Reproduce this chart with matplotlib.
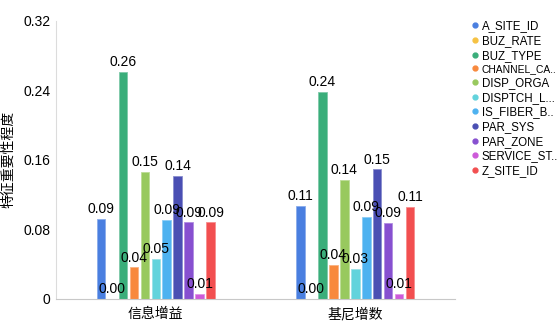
import matplotlib

matplotlib.use("Agg")
import matplotlib.pyplot as plt
from matplotlib.colors import to_rgb
from matplotlib.lines import Line2D
import numpy as np

plt.rcParams["font.family"] = ["Liberation Sans", "Noto Sans CJK SC", "DejaVu Sans"]

# categorías (grupos) y features
groups = ["信息增益", "基尼增数"]
features = ["A_SITE_ID", "BUZ_RATE", "BUZ_TYPE", "CHANNEL_CA..", "DISP_ORGA",
            "DISPTCH_L...", "IS_FIBER_B..", "PAR_SYS", "PAR_ZONE",
            "SERVICE_ST..", "Z_SITE_ID"]
info_gain = [0.092, 0.0, 0.261, 0.036, 0.146, 0.046, 0.091, 0.141, 0.088, 0.0054, 0.088]
gini_gain = [0.107, 0.0, 0.238, 0.039, 0.137, 0.034, 0.094, 0.149, 0.0875, 0.0054, 0.106]
colors = ["#4a7fe0", "#f6c243", "#3aae7a", "#f8893d", "#98c95e", "#62d3dc",
          "#4eb2f0", "#4a4fb3", "#8750d0", "#cd5ad9", "#f24f50"]
y_ticks = [0, 0.08, 0.16, 0.24, 0.32]
y_labels = ["0", "0.08", "0.16", "0.24", "0.32"]


def lighten(c, f=0.35):
    r, g, b = to_rgb(c)
    return (r + (1 - r) * f, g + (1 - g) * f, b + (1 - b) * f)


fig = plt.figure(figsize=(5.57, 3.24), dpi=100)
ax = fig.add_axes([0.1005, 0.078, 0.7165, 0.858])

x = np.arange(len(groups))
step, width = 0.055, 0.0425
for i, feat in enumerate(features):
    vals = [info_gain[i], gini_gain[i]]
    bars = ax.bar(x + (i - 5) * step, vals, width, color=colors[i],
                  edgecolor=lighten(colors[i]), linewidth=0.6)
    ax.bar_label(bars, fmt="%.2f", padding=2, fontsize=10)

ax.set_xlim(-0.5, 1.5)
ax.set_ylim(0, 0.32)
ax.set_xticks(x)
ax.set_xticklabels(groups, fontsize=10)
ax.set_yticks(y_ticks)
ax.set_yticklabels(y_labels, fontsize=10)
ax.tick_params(axis="y", length=0, pad=4)
ax.tick_params(axis="x", length=0, pad=6)
ax.set_ylabel("特征重要性程度", fontsize=10, labelpad=6)

for s in ("top", "right"):
    ax.spines[s].set_visible(False)
ax.spines["left"].set_color("#dcdcdc")
ax.spines["bottom"].set_color("#c8c8c8")

handles = [Line2D([], [], marker="o", linestyle="", markersize=3.5,
                  color=c) for c in colors]
leg = fig.legend(handles, features, loc="upper left", bbox_to_anchor=(0.846, 0.937),
                 frameon=False, fontsize=8.3, handlelength=0.6, handletextpad=0.3,
                 labelspacing=0.23, borderaxespad=0, borderpad=0)
# la etiqueta más larga se achica un poco para que quepa en el borde
leg.get_texts()[3].set_fontsize(7.4)

fig.savefig("out.png", dpi=100)
